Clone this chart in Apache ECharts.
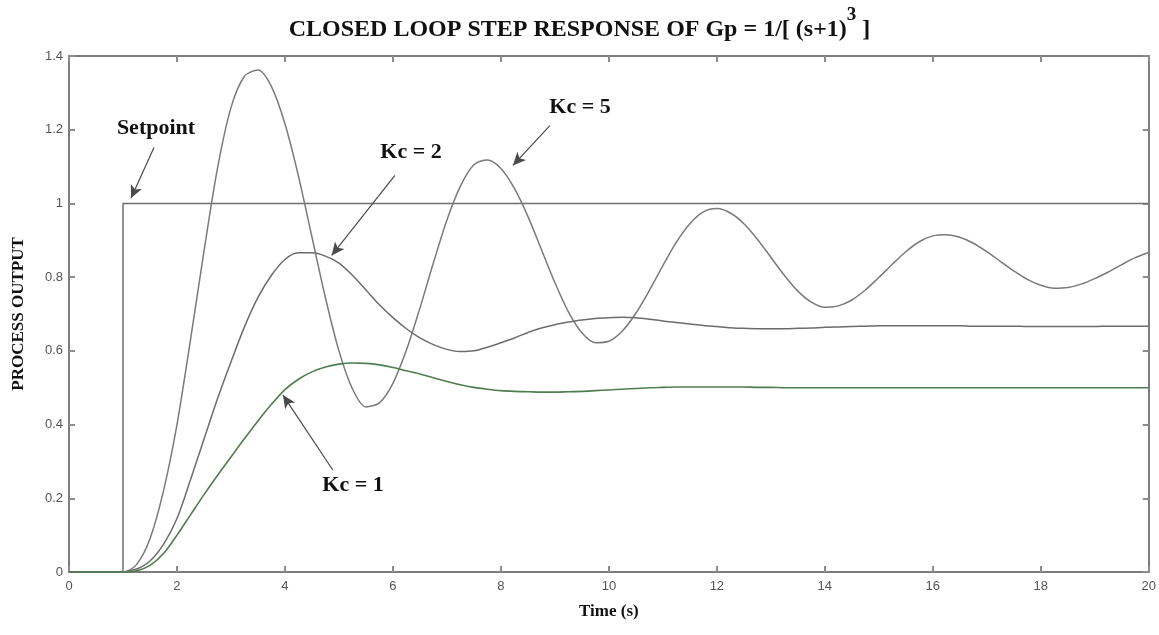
<!DOCTYPE html>
<html>
<head>
<meta charset="utf-8">
<script src="https://cdn.jsdelivr.net/npm/echarts@6/dist/echarts.min.js"></script>
<style>
html,body{margin:0;padding:0;background:#fff;}
#chart{width:1159px;height:635px;}
</style>
</head>
<body>
<div id="chart"></div>
<script>
// ---- Data ----
const time = [0,1,1.25,1.5,1.75,2,2.25,2.5,2.75,3,3.25,3.5,3.75,4,4.25,4.5,4.75,5,5.25,5.5,5.75,6,6.25,6.5,6.75,7,7.25,7.5,7.75,8,8.25,8.5,8.75,9,9.25,9.5,9.75,10,10.25,10.5,10.75,11,11.25,11.5,11.75,12,12.25,12.5,12.75,13,13.25,13.5,13.75,14,14.25,14.5,14.75,15,15.25,15.5,15.75,16,16.25,16.5,16.75,17,17.25,17.5,17.75,18,18.25,18.5,18.75,19,19.25,19.5,19.75,20];
const kc5 = [0,0,0.02,0.09,0.22,0.40,0.63,0.87,1.095,1.26,
  1.345,1.362,1.317,1.216,1.074,0.909,0.744,0.600,0.497,0.448,
  0.459,0.512,0.602,0.716,0.839,0.955,1.047,1.105,1.118,1.095,
  1.041,0.965,0.875,0.785,0.706,0.649,0.622,0.626,0.654,0.702,
  0.764,0.831,0.895,0.945,0.977,0.986,0.974,0.945,0.903,0.854,
  0.805,0.762,0.732,0.718,0.722,0.738,0.765,0.799,0.835,0.869,
  0.896,0.912,0.915,0.908,0.892,0.869,0.843,0.817,0.794,0.778,
  0.770,0.772,0.781,0.796,0.814,0.834,0.853,0.867];
const kc2 = [0,0,0.008,0.03,0.075,0.145,0.25,0.36,0.47,0.57,
  0.665,0.745,0.805,0.848,0.866,0.866,0.857,0.838,0.805,0.765,
  0.725,0.69,0.66,0.635,0.617,0.604,0.598,0.6,0.61,0.622,
  0.635,0.65,0.662,0.671,0.678,0.684,0.688,0.69,0.691,0.69,
  0.686,0.681,0.677,0.673,0.669,0.666,0.663,0.661,0.66,0.66,
  0.66,0.661,0.662,0.664,0.665,0.666,0.667,0.668,0.668,0.668,
  0.668,0.668,0.668,0.668,0.667,0.667,0.667,0.667,0.666,0.666,
  0.666,0.666,0.666,0.666,0.667,0.667,0.667,0.667];
const kc1 = [0,0,0.003,0.018,0.05,0.1,0.155,0.21,0.262,0.312,
  0.362,0.41,0.455,0.495,0.523,0.543,0.556,0.564,0.567,0.566,
  0.562,0.555,0.546,0.537,0.527,0.517,0.508,0.501,0.496,0.492,
  0.49,0.489,0.488,0.488,0.489,0.49,0.492,0.494,0.496,0.498,
  0.5,0.501,0.502,0.502,0.502,0.502,0.502,0.502,0.501,0.501,
  0.5,0.5,0.5,0.5,0.5,0.5,0.5,0.5,0.5,0.5,
  0.5,0.5,0.5,0.5,0.5,0.5,0.5,0.5,0.5,0.5,
  0.5,0.5,0.5,0.5,0.5,0.5,0.5,0.5];
const setpointTime = [0,1,1,20];
const setpointValue = [0,0,1,1];
const xTicks = [0,2,4,6,8,10,12,14,16,18,20];
const yTicks = [0,0.2,0.4,0.6,0.8,1,1.2,1.4];
const labels = ['Setpoint','Kc = 2','Kc = 5','Kc = 1'];

function pairs(xs, ys){ return xs.map((x,i)=>[x, ys[i]]); }

const axisLineStyle = {color:'#7d7d7d', width:2};
const tickStyle = {color:'#8c8c8c', width:2};
const labelStyle = {color:'#555', fontSize:13, fontFamily:'Liberation Sans'};
const annoFont = 'bold 22px "Liberation Serif"';

const chart = echarts.init(document.getElementById('chart'), null, {renderer:'canvas'});
const option = {
  animation:false,
  backgroundColor:'#fff',
  grid:{left:69, right:10, top:56, bottom:63, containLabel:false},
  xAxis:[
    {type:'value', min:xTicks[0], max:xTicks[xTicks.length-1], interval:2, position:'bottom',
     axisLine:{show:true, onZero:false, lineStyle:axisLineStyle},
     axisTick:{show:true, inside:true, length:6, lineStyle:tickStyle},
     axisLabel:Object.assign({margin:8}, labelStyle),
     splitLine:{show:false},
     name:'Time (s)', nameLocation:'middle', nameGap:31,
     nameTextStyle:{fontFamily:'Liberation Serif', fontWeight:'bold', fontSize:17, color:'#111'}},
    {type:'value', min:xTicks[0], max:xTicks[xTicks.length-1], interval:2, position:'top',
     axisLine:{show:true, onZero:false, lineStyle:axisLineStyle},
     axisTick:{show:true, inside:true, length:6, lineStyle:tickStyle},
     axisLabel:{show:false}, splitLine:{show:false}}
  ],
  yAxis:[
    {type:'value', min:yTicks[0], max:yTicks[yTicks.length-1], interval:0.2, position:'left',
     axisLine:{show:true, onZero:false, lineStyle:axisLineStyle},
     axisTick:{show:true, inside:true, length:6, lineStyle:tickStyle},
     axisLabel:Object.assign({margin:6}, labelStyle),
     splitLine:{show:false},
     name:'PROCESS OUTPUT', nameLocation:'middle', nameGap:42,
     nameTextStyle:{fontFamily:'Liberation Serif', fontWeight:'bold', fontSize:17, color:'#111'}},
    {type:'value', min:yTicks[0], max:yTicks[yTicks.length-1], interval:0.2, position:'right',
     axisLine:{show:true, onZero:false, lineStyle:axisLineStyle},
     axisTick:{show:true, inside:true, length:6, lineStyle:tickStyle},
     axisLabel:{show:false}, splitLine:{show:false}}
  ],
  series:[
    {name:'Setpoint', type:'line', data:pairs(setpointTime, setpointValue), symbol:'none',
     lineStyle:{color:'#6f6f6f', width:1.5}, z:3,
     markLine:{silent:true, symbol:['none','arrow'], symbolSize:[9,13],
       lineStyle:{color:'#4a4a4a', width:1.2, type:'solid'}, itemStyle:{color:'#222'},
       label:{show:false},
       data:[
         [{coord:[1.574,1.152]},{coord:[1.148,1.014]}],
         [{coord:[6.037,1.076]},{coord:[4.865,0.859]}],
         [{coord:[8.907,1.211]},{coord:[8.222,1.103]}],
         [{coord:[4.889,0.276]},{coord:[3.963,0.48]}]
       ]}},
    {name:'Kc = 5', type:'line', data:pairs(time, kc5), symbol:'none', smooth:0.3,
     lineStyle:{color:'#7a7a7a', width:1.5}},
    {name:'Kc = 2', type:'line', data:pairs(time, kc2), symbol:'none', smooth:0.3,
     lineStyle:{color:'#6c6c6c', width:1.5}},
    {name:'Kc = 1', type:'line', data:pairs(time, kc1), symbol:'none', smooth:0.3,
     lineStyle:{color:'#4f7d4f', width:1.6}}
  ],
  graphic:[
    {type:'text', left:'center', top:6, style:{
      text:'{a|CLOSED LOOP STEP RESPONSE OF Gp = 1/[ (s+1)}{s|3}{a| ]}',
      rich:{
        a:{font:'bold 24px "Liberation Serif"', fill:'#111', lineHeight:36, verticalAlign:'bottom'},
        s:{font:'bold 19px "Liberation Serif"', fill:'#111', lineHeight:36, verticalAlign:'top', padding:[0,0,17,0]}
      }}},
    {type:'text', x:156, y:128, style:{text:labels[0], font:annoFont, fill:'#111', align:'center', verticalAlign:'middle'}},
    {type:'text', x:411, y:152, style:{text:labels[1], font:annoFont, fill:'#111', align:'center', verticalAlign:'middle'}},
    {type:'text', x:580, y:107, style:{text:labels[2], font:annoFont, fill:'#111', align:'center', verticalAlign:'middle'}},
    {type:'text', x:353, y:485, style:{text:labels[3], font:annoFont, fill:'#111', align:'center', verticalAlign:'middle'}}
  ]
};
chart.setOption(option);
</script>
</body>
</html>
